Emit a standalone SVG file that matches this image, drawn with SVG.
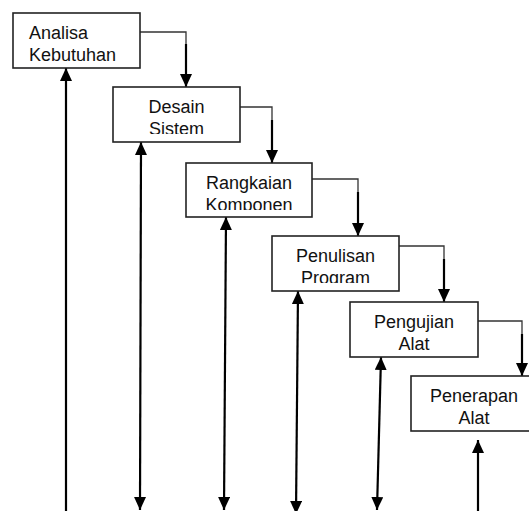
<svg xmlns="http://www.w3.org/2000/svg" width="529" height="511" viewBox="0 0 529 511">
<style>
.box{fill:#fff;stroke:#222;stroke-width:1.6}
.lbl{font-family:"Liberation Sans",Arial,sans-serif;font-size:18px;fill:#111}
.c{text-anchor:middle}
.h{fill:none;stroke:#333;stroke-width:1.3}
.v{fill:none;stroke:#000;stroke-width:2.2}
</style>
<defs>
<marker id="ah" markerUnits="userSpaceOnUse" markerWidth="14" markerHeight="12" refX="13" refY="6" orient="auto-start-reverse">
<path d="M0,0 L13,6 L0,12 z" fill="#000"/>
</marker>
<clipPath id="k1"><rect x="13" y="13" width="127" height="48"/></clipPath>
<clipPath id="k2"><rect x="113" y="87" width="127" height="47"/></clipPath>
<clipPath id="k3"><rect x="186" y="163" width="126" height="47"/></clipPath>
<clipPath id="k4"><rect x="272" y="236" width="127" height="47"/></clipPath>
<clipPath id="k5"><rect x="350" y="302" width="128" height="49"/></clipPath>
<clipPath id="k6"><rect x="411" y="376" width="126" height="49"/></clipPath>
</defs>
<g id="connectors">
<polyline class="h" points="140,32 186,32 186,75"/>
<line class="v" x1="186" y1="44" x2="186" y2="87" marker-end="url(#ah)"/>
<polyline class="h" points="240,107 272,107 272,150"/>
<line class="v" x1="272" y1="120" x2="272" y2="163" marker-end="url(#ah)"/>
<polyline class="h" points="312,179 358,179 358,222"/>
<line class="v" x1="358" y1="192" x2="358" y2="236" marker-end="url(#ah)"/>
<polyline class="h" points="399,246 444,246 444,290"/>
<line class="v" x1="444" y1="259" x2="444" y2="302" marker-end="url(#ah)"/>
<polyline class="h" points="478,321 522,321 522,364"/>
<line class="v" x1="522" y1="334" x2="522" y2="376" marker-end="url(#ah)"/>
<line class="v" x1="66" y1="511" x2="66" y2="68" marker-end="url(#ah)"/>
<line class="v" x1="141" y1="142" x2="140" y2="510" marker-start="url(#ah)" marker-end="url(#ah)"/>
<line class="v" x1="226" y1="217" x2="224" y2="510" marker-start="url(#ah)" marker-end="url(#ah)"/>
<line class="v" x1="298" y1="291" x2="296" y2="514" marker-start="url(#ah)" marker-end="url(#ah)"/>
<line class="v" x1="381" y1="357" x2="377" y2="510" marker-start="url(#ah)" marker-end="url(#ah)"/>
<line class="v" x1="478" y1="511" x2="478" y2="440" marker-end="url(#ah)"/>
</g>
<g id="analisa">
<rect class="box" x="13" y="13" width="127" height="55"/>
<g clip-path="url(#k1)"><text class="lbl" x="29" y="39">Analisa</text><text class="lbl" x="29" y="61">Kebutuhan</text></g>
</g>
<g id="desain">
<rect class="box" x="113" y="87" width="127" height="55"/>
<g clip-path="url(#k2)"><text class="lbl c" x="176.5" y="113">Desain</text><text class="lbl c" x="176.5" y="135">Sistem</text></g>
</g>
<g id="rangkaian">
<rect class="box" x="186" y="163" width="126" height="54"/>
<g clip-path="url(#k3)"><text class="lbl c" x="249" y="189">Rangkaian</text><text class="lbl c" x="249" y="211">Komponen</text></g>
</g>
<g id="penulisan">
<rect class="box" x="272" y="236" width="127" height="55"/>
<g clip-path="url(#k4)"><text class="lbl c" x="335.5" y="262">Penulisan</text><text class="lbl c" x="335.5" y="284">Program</text></g>
</g>
<g id="pengujian">
<rect class="box" x="350" y="302" width="128" height="55"/>
<g clip-path="url(#k5)"><text class="lbl c" x="414" y="328">Pengujian</text><text class="lbl c" x="414" y="350">Alat</text></g>
</g>
<g id="penerapan">
<rect class="box" x="411" y="376" width="126" height="55"/>
<g clip-path="url(#k6)"><text class="lbl c" x="474" y="402">Penerapan</text><text class="lbl c" x="474" y="424">Alat</text></g>
</g>
</svg>
